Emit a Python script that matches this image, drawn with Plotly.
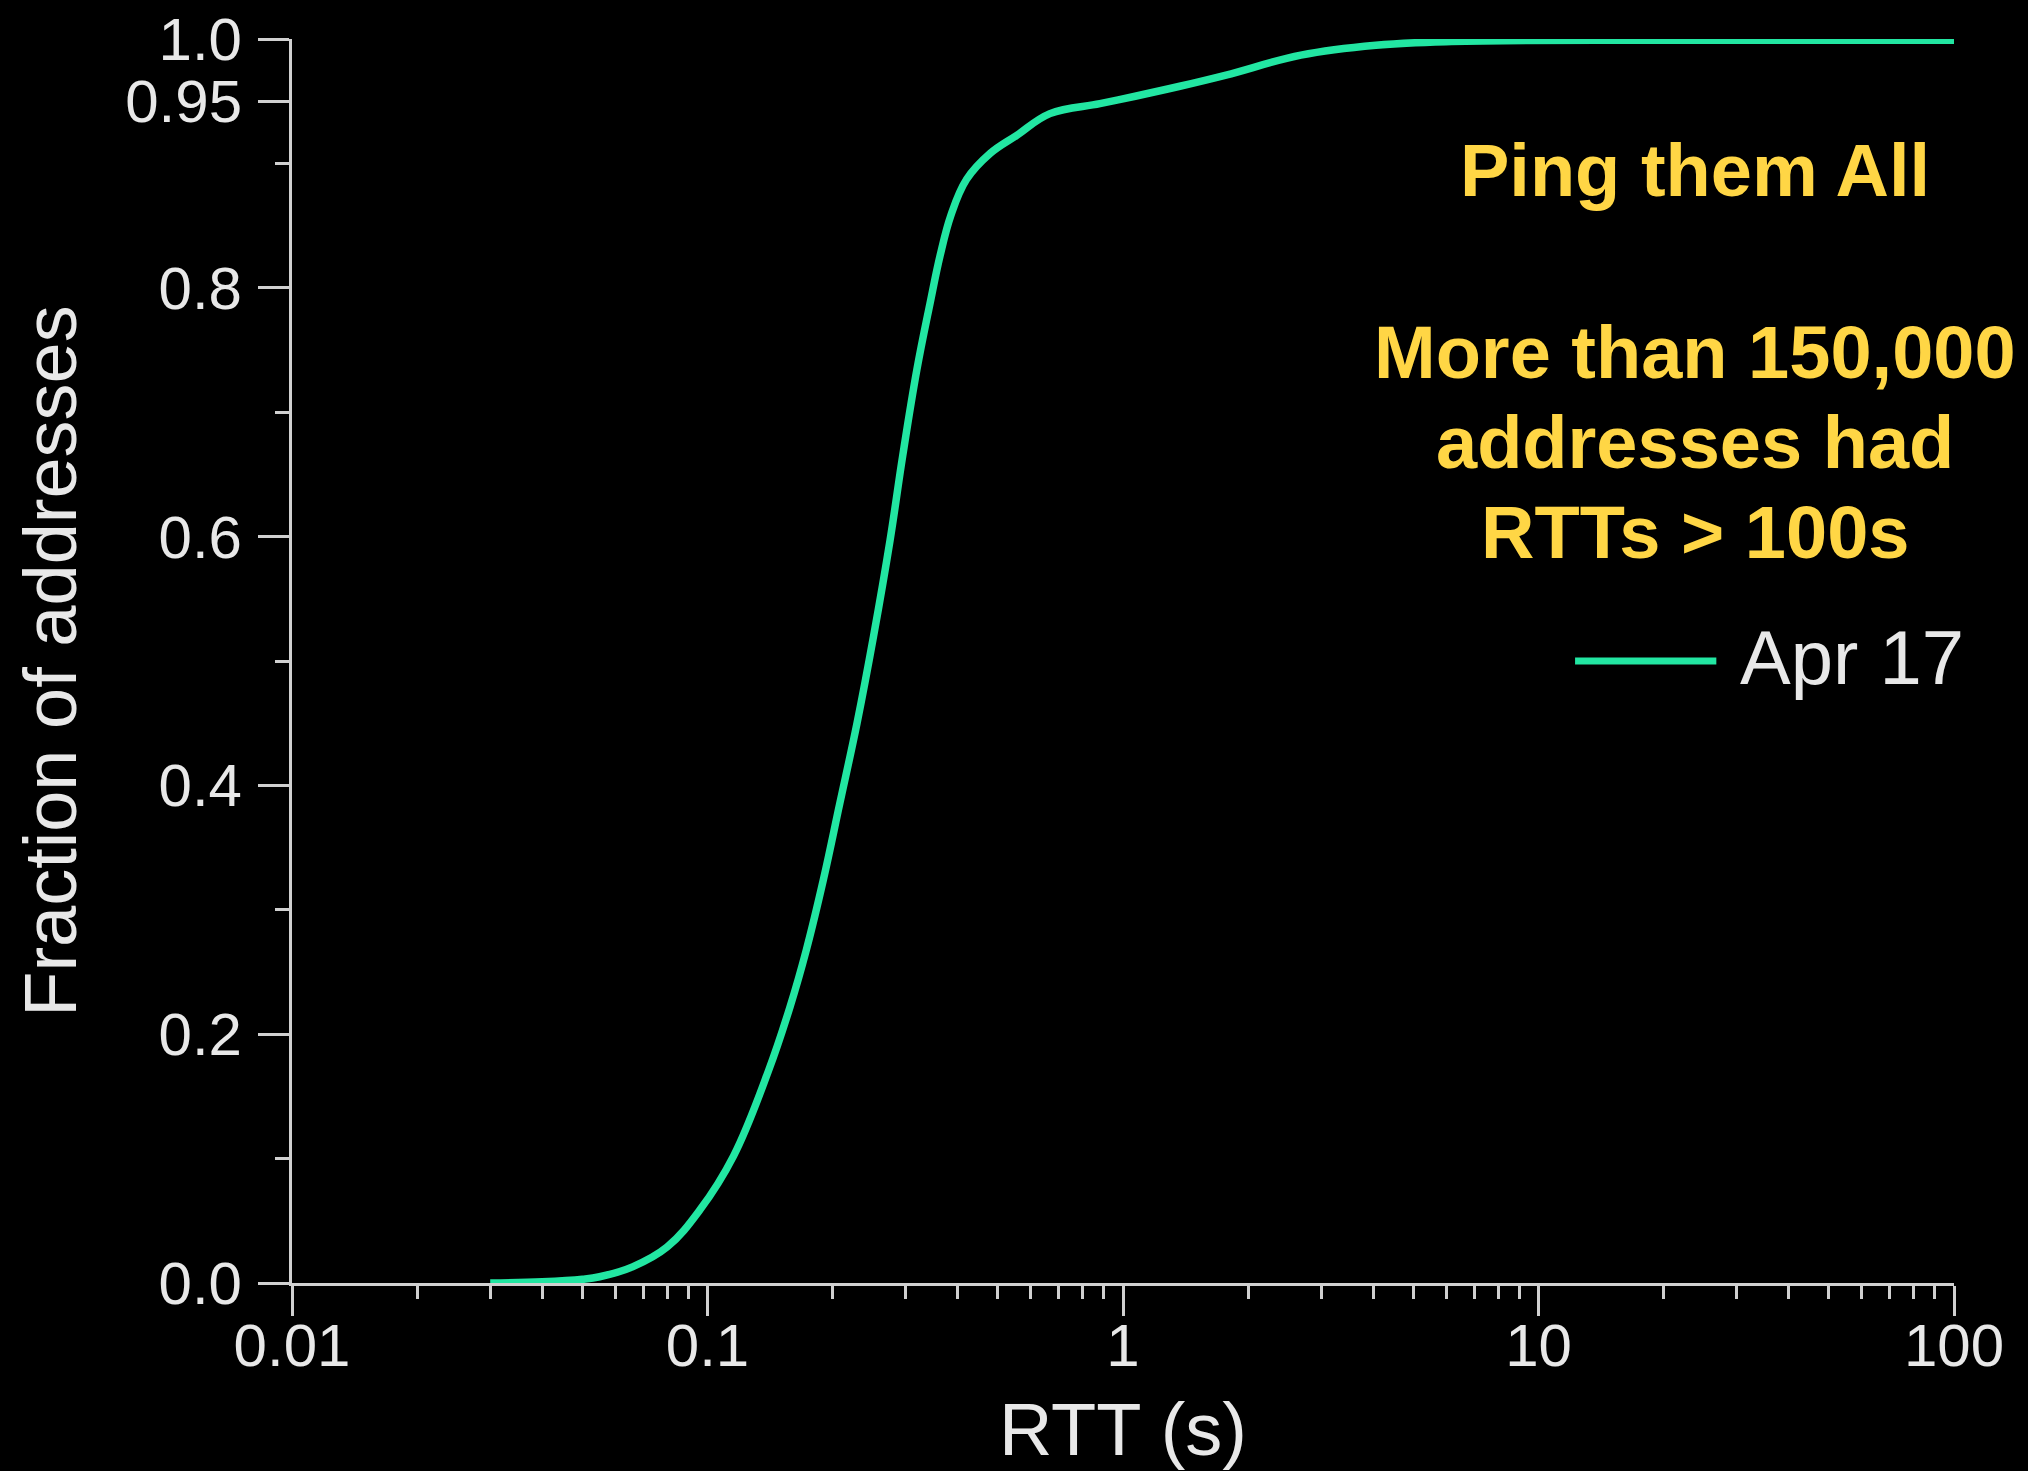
import plotly.graph_objects as go

# CDF of ping round-trip times (Apr 17)
rtt_s = [0.03, 0.04, 0.05, 0.055, 0.066, 0.08, 0.096, 0.1155, 0.14, 0.158, 0.173,
         0.19, 0.208, 0.229, 0.251, 0.275, 0.295, 0.319, 0.343, 0.363, 0.385, 0.42,
         0.479, 0.555, 0.667, 0.88, 1.07, 1.37, 1.77, 2.68, 4.06, 6.17, 20, 100]
fraction = [0.0, 0.001, 0.003, 0.005, 0.013, 0.029, 0.059, 0.102, 0.170, 0.222, 0.268,
            0.324, 0.385, 0.450, 0.520, 0.597, 0.665, 0.734, 0.787, 0.826, 0.858, 0.887,
            0.908, 0.9225, 0.940, 0.948, 0.954, 0.962, 0.971, 0.987, 0.995, 0.998, 0.999, 0.999]

series_name = "Apr 17"

x_major = [0.01, 0.1, 1, 10, 100]
x_major_text = ["0.01", "0.1", "1", "10", "100"]
x_minor = [m * d for d in (0.01, 0.1, 1, 10) for m in range(2, 10)]

y_major = [0.0, 0.2, 0.4, 0.6, 0.8, 0.95, 1.0]
y_major_text = ["0.0", "0.2", "0.4", "0.6", "0.8", "0.95", "1.0"]
y_minor = [0.1, 0.3, 0.5, 0.7, 0.9]

notes = ["Ping them All", "More than 150,000", "addresses had", "RTTs > 100s"]
note_y = [0.894, 0.748, 0.676, 0.603]

FONT = "Liberation Sans, Arial, Helvetica, sans-serif"
LINE_COLOR = "#22E6A2"
AXIS_COLOR = "#d0d0d0"
TEXT_COLOR = "#e8e8e8"
NOTE_COLOR = "#FFD645"

fig = go.Figure()
fig.add_trace(go.Scatter(
    x=rtt_s, y=fraction, mode="lines", name=series_name,
    line=dict(color=LINE_COLOR, width=7.5, shape="spline", smoothing=1.1),
    showlegend=False,
))

axis_common = dict(
    showgrid=False, zeroline=False, showline=True,
    linecolor=AXIS_COLOR, linewidth=3,
    ticks="outside", tickcolor=AXIS_COLOR, tickwidth=3,
    tickfont=dict(family=FONT, size=60, color=TEXT_COLOR),
)

fig.update_xaxes(
    type="log", range=[-2, 2],
    tickmode="array", tickvals=x_major, ticktext=x_major_text, ticklen=30,
    ticklabelstandoff=-22,
    minor=dict(tickmode="array", tickvals=x_minor, ticks="outside", ticklen=13,
               tickcolor=AXIS_COLOR, tickwidth=3, showgrid=False),
    title=dict(text="RTT (s)", font=dict(family=FONT, size=74, color=TEXT_COLOR), standoff=42),
    **axis_common,
)
fig.update_yaxes(
    range=[0, 1],
    tickmode="array", tickvals=y_major, ticktext=y_major_text, ticklen=31,
    ticklabelstandoff=4,
    minor=dict(tickmode="array", tickvals=y_minor, ticks="outside", ticklen=14,
               tickcolor=AXIS_COLOR, tickwidth=3, showgrid=False),
    title=dict(text="Fraction of addresses", font=dict(family=FONT, size=74, color=TEXT_COLOR), standoff=25),
    **axis_common,
)

annotations = []
for text, yy in zip(notes, note_y):
    annotations.append(dict(
        text=f"<b>{text}</b>", xref="paper", yref="paper", x=0.844, y=yy,
        xanchor="center", yanchor="middle", showarrow=False,
        font=dict(family=FONT, size=74, color=NOTE_COLOR),
    ))
annotations.append(dict(
    text=series_name, xref="paper", yref="paper", x=0.870, y=0.503,
    xanchor="left", yanchor="middle", showarrow=False,
    font=dict(family=FONT, size=76, color=TEXT_COLOR),
))

fig.update_layout(
    width=2028, height=1471,
    margin=dict(l=292, r=74, t=39, b=188, autoexpand=False),
    paper_bgcolor="black", plot_bgcolor="black",
    annotations=annotations,
    shapes=[dict(type="line", xref="paper", yref="paper",
                 x0=0.772, x1=0.857, y0=0.5, y1=0.5,
                 line=dict(color=LINE_COLOR, width=7))],
)

fig.write_html("out.html")
